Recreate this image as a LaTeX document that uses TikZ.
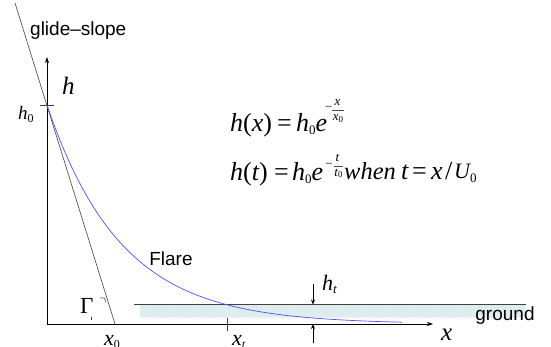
\documentclass[tikz,border=0pt]{standalone}
\usepackage{fontspec}
\setsansfont{Liberation Sans}
\newfontfamily\tnr{Liberation Serif}
\newcommand\ti[1]{{\tnr\itshape #1}}
\newcommand\tsub[2]{\raisebox{#2}{\tnr\upshape\fontsize{#1}{#1}\selectfont 0}}
\usetikzlibrary{patterns,arrows.meta}
\definecolor{curveblue}{RGB}{80,80,250}
\definecolor{groundfill}{RGB}{232,244,246}
\definecolor{hatchcol}{RGB}{205,224,229}
\begin{document}
\begin{tikzpicture}[x=1pt,y=-1pt,
  axis/.style={draw=black, line width=0.8pt, -{Stealth[length=6pt,width=4pt]}},
  thin line/.style={draw=black!75, line width=0.6pt},
  sanslabel/.style={font=\sffamily\fontsize{19}{22}\selectfont, inner sep=0pt},
  eqtext/.style={font=\tnr\fontsize{26}{28}\selectfont, inner sep=0pt, anchor=base west},
  exptext/.style={font=\tnr\itshape\fontsize{13}{14}\selectfont, inner sep=0pt},
  dimarrow/.style={draw=black, line width=0.6pt, -{Stealth[length=5pt,width=4pt]}}]
\useasboundingbox (0,0) rectangle (551,347);
% axes
\coordinate (O) at (47,324);
\coordinate (ytop) at (47,57);
\coordinate (xend) at (433,324);
% ground
\fill[groundfill] (140,305) rectangle (525,317);
\fill[pattern=north east lines, pattern color=hatchcol] (140,305) rectangle (525,317);
\coordinate (g1) at (134,304.5);
\coordinate (g2) at (526,304.5);
\draw[thin line] (g1) -- (g2);
\draw[axis] (O) -- (ytop);
\draw[axis] (O) -- (xend);
% glide slope
\coordinate (gs1) at (15,3);
\coordinate (x0pt) at (115,324);
\draw[thin line] (gs1) -- (x0pt);
% h0 tick
\coordinate (t1) at (40,105);
\coordinate (t2) at (54,105);
\draw[thin line] (t1) -- (t2);
% xt tick
\coordinate (xt1) at (227,318);
\coordinate (xt2) at (227,331);
\draw[thin line] (xt1) -- (xt2);
% flare curve
\draw[curveblue, line width=0.7pt] plot[domain=47:402, samples=120, smooth] ({\x},{324-219*exp(-(\x-47)/74)});
% gamma arc and tick
\coordinate (ga1) at (100,298);
\coordinate (ga2) at (106,302.5);
\draw[thin line] (ga1) .. controls (104.5,297.5) .. (ga2);
\coordinate (gt1) at (91,316.5);
\coordinate (gt2) at (91,320);
\draw[thin line, line width=0.5pt] (gt1) -- (gt2);
% ht arrows
\coordinate (ha1) at (313,284);
\coordinate (ha2) at (313,304.5);
\coordinate (hb1) at (313,343);
\coordinate (hb2) at (313,324);
\draw[dimarrow] (ha1) -- (ha2);
\draw[dimarrow] (hb1) -- (hb2);
% sans labels
\node[font=\sffamily\fontsize{19}{22}\selectfont, inner sep=0pt, anchor=base west] (glide) at (30,36) {glide–slope};
\node[sanslabel] (flare) at (171,259) {Flare};
\node[sanslabel] (ground) at (505,316) {ground};
% axis labels
\node[inner sep=0pt, anchor=base west, font=\tnr\itshape\fontsize{25}{26}\selectfont] (hlab) at (62,95) {h};
\node[inner sep=0pt, anchor=base west, font=\tnr\itshape\fontsize{19}{20}\selectfont] (h0lab) at (18,120) {h\tsub{12}{-3pt}};
\node[inner sep=0pt, anchor=base west, font=\tnr\itshape\fontsize{22}{24}\selectfont] (x0lab) at (104,345) {x\tsub{12}{-3pt}};
\node[inner sep=0pt, anchor=base west, font=\tnr\itshape\fontsize{22}{24}\selectfont] (xtlab) at (232,345) {x\raisebox{-3pt}{\fontsize{12}{12}\selectfont t}};
\node[inner sep=0pt, anchor=base west, font=\tnr\itshape\fontsize{22}{24}\selectfont] (htlab) at (322,290) {h\raisebox{-3pt}{\fontsize{13}{13}\selectfont t}};
\node[inner sep=0pt, anchor=base west, font=\tnr\itshape\fontsize{25}{26}\selectfont] (xlab) at (441,340) {x};
\node[inner sep=0pt, anchor=base west, font=\tnr\fontsize{23}{24}\selectfont] (gamma) at (80,313) {Γ};
% equation 1
\node[eqtext] (e1a) at (230,132) {\ti{h}(\ti{x})};
\node[eqtext] (e1eq) at (277,132) {=};
\node[eqtext] (e1b) at (296,132) {\ti{h}\tsub{13}{-3pt}\ti{e}};
\node[inner sep=0pt, font=\tnr\fontsize{12}{12}\selectfont] (e1m) at (328.5,108) {–};
\node[exptext] (e1n) at (337.5,102.5) {x};
\node[exptext] (e1d) at (338,118.5) {x\raisebox{-1.5pt}{\upshape\fontsize{9}{9}\selectfont 0}};
\coordinate (e1bar1) at (332,110);
\coordinate (e1bar2) at (343.5,110);
\draw[black!70, line width=0.5pt] (e1bar1) -- (e1bar2);
% equation 2
\node[eqtext] (e2a) at (230,181) {\ti{h}(\ti{t})};
\node[eqtext] (e2eq) at (274,181) {=};
\node[eqtext] (e2b) at (292,181) {\ti{h}\tsub{13}{-3pt}\ti{e}};
\node[inner sep=0pt, font=\tnr\fontsize{12}{12}\selectfont] (e2m) at (329,165) {–};
\node[exptext] (e2n) at (337.5,157.5) {t};
\node[exptext] (e2d) at (338.5,173.5) {t\raisebox{-1.5pt}{\upshape\fontsize{9}{9}\selectfont 0}};
\coordinate (e2bar1) at (333.5,166);
\coordinate (e2bar2) at (342.5,166);
\draw[black!70, line width=0.5pt] (e2bar1) -- (e2bar2);
\node[eqtext, font=\tnr\fontsize{24.5}{26}\selectfont] (e2w) at (344,180) {\ti{when}};
\node[eqtext] (e2t) at (401,180) {\ti{t}};
\node[eqtext] (e2eq2) at (412,180) {=};
\node[eqtext] (e2x) at (431,180) {\ti{x}};
\node[eqtext] (e2s) at (445,180) {/};
\node[eqtext, font=\tnr\fontsize{22}{24}\selectfont] (e2u) at (454,179) {\ti{U}\tsub{13}{-4pt}};
\end{tikzpicture}
\end{document}
